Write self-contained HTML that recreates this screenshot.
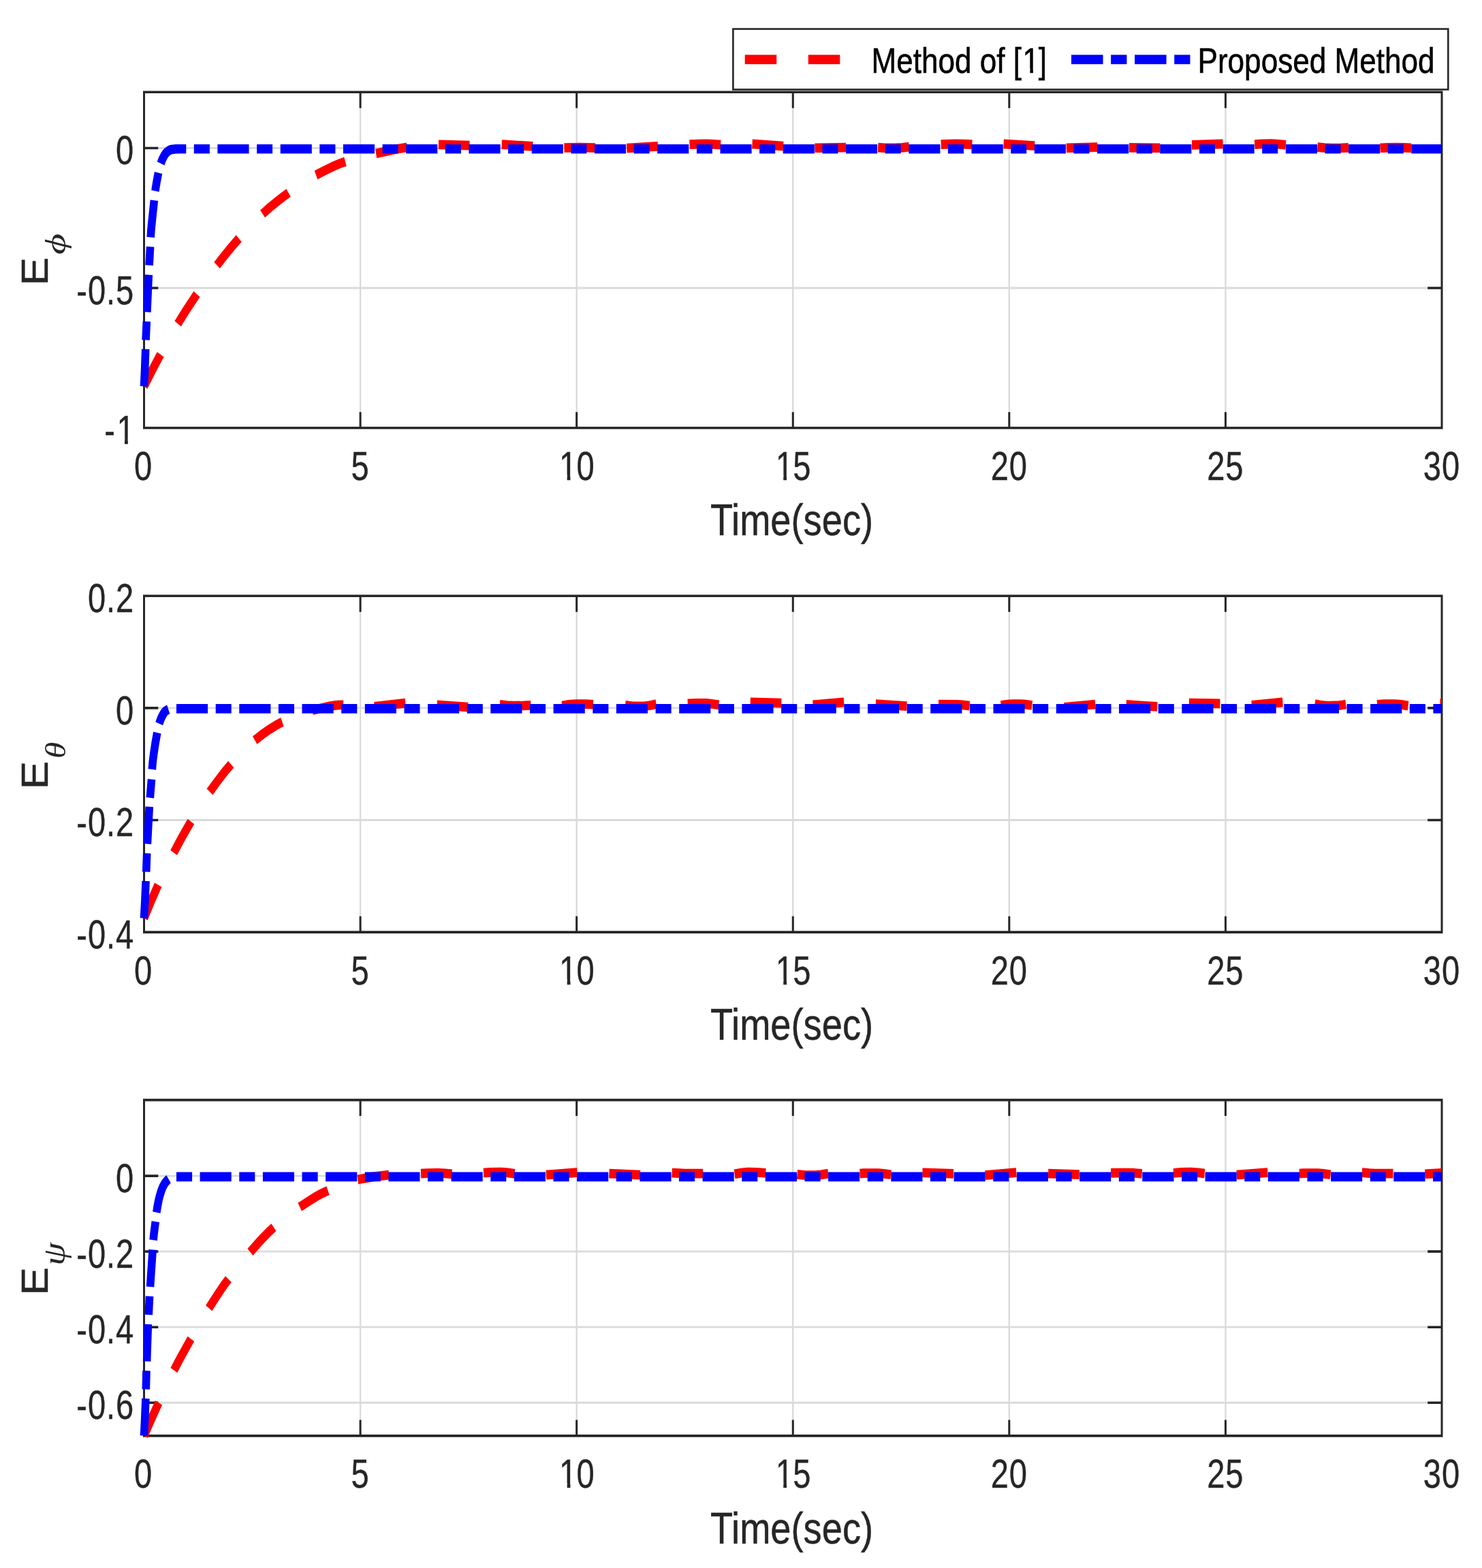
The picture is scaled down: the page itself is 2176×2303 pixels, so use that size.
<!DOCTYPE html>
<html lang="en"><head><meta charset="utf-8"><title>Tracking errors: Method of [1] vs Proposed Method</title>
<style>
html,body{margin:0;padding:0;background:#fff;}
body{width:2176px;height:2303px;overflow:hidden;}
svg{display:block;}
text{font-family:'Liberation Sans', sans-serif;fill:#262626;}
.tk{font-size:49.6px;stroke:#262626;stroke-width:0.3px;letter-spacing:0.9px;}
.lb{font-size:53.9px;stroke:#262626;stroke-width:0.4px;}
.le{font-size:54.6px;stroke:#262626;stroke-width:0.5px;}
.w{fill:#fff;}
.lg{font-size:44.1px;fill:#000;stroke:#000;stroke-width:0.5px;}
.sub{font-family:'Liberation Serif','DejaVu Serif',serif;font-style:italic;font-size:42px;}
.grid{fill:none;stroke:#000;stroke-opacity:0.145;stroke-width:2.4;}
.ax{fill:none;stroke:#262626;stroke-width:3;stroke-linecap:butt;stroke-linejoin:miter;}
.lgbox{fill:#fff;stroke:#262626;stroke-width:2.6;}
.red{fill:none;stroke:#f00;stroke-width:11.6;stroke-linejoin:round;}
.blue{fill:none;stroke:#00f;stroke-width:11.6;stroke-linejoin:round;}
</style></head><body>
<svg width="2176" height="2303" viewBox="0 0 2176 2303">
<rect width="2176" height="2303" fill="#fff"/>
<g transform="scale(1 1.185)">
<g id="axes1">
<path class="grid" d="M529.08 114.18V530.38M846.67 114.18V530.38M1164.25 114.18V530.38M1481.83 114.18V530.38M1799.42 114.18V530.38M211.5 183.54H2117M211.5 356.96H2117"/>
<path class="ax" d="M211.5 114.18H2117V530.38H211.5ZM529.08 530.38v-19.7M529.08 114.18v19.7M846.67 530.38v-19.7M846.67 114.18v19.7M1164.25 530.38v-19.7M1164.25 114.18v19.7M1481.83 530.38v-19.7M1481.83 114.18v19.7M1799.42 530.38v-19.7M1799.42 114.18v19.7M211.5 183.54h20.8M2117 183.54h-20.8M211.5 356.96h20.8M2117 356.96h-20.8"/>
<g transform="translate(197.1 594.94) scale(0.95 1)"><text class="tk">0</text></g>
<g transform="translate(515.48 594.94) scale(0.95 1)"><text class="tk">5</text></g>
<g transform="translate(819.53 594.94) scale(0.95 1)"><text class="tk"><tspan dx="1.6864">1</tspan><tspan dx="-1.6864">0</tspan></text><rect class="w" x="3.1744" y="-6.2" width="10.6392" height="9.176"/><rect class="w" x="18.8976" y="-6.2" width="10.0688" height="9.176"/></g>
<g transform="translate(1137.12 594.94) scale(0.95 1)"><text class="tk"><tspan dx="1.6864">1</tspan><tspan dx="-1.6864">5</tspan></text><rect class="w" x="3.1744" y="-6.2" width="10.6392" height="9.176"/><rect class="w" x="18.8976" y="-6.2" width="10.0688" height="9.176"/></g>
<g transform="translate(1454.7 594.94) scale(0.95 1)"><text class="tk">20</text></g>
<g transform="translate(1772.28 594.94) scale(0.95 1)"><text class="tk">25</text></g>
<g transform="translate(2089.87 594.94) scale(0.95 1)"><text class="tk">30</text></g>
<g transform="translate(169.89 203.71) scale(0.95 1)"><text class="tk">0</text></g>
<g transform="translate(112.34 377.13) scale(0.95 1)"><text class="tk">-0.5</text></g>
<g transform="translate(153.35 550.55) scale(0.95 1)"><text class="tk">-<tspan dx="1.6864">1</tspan></text><rect class="w" x="20.5916" y="-6.2" width="10.6392" height="9.176"/><rect class="w" x="36.3148" y="-6.2" width="10.0688" height="9.176"/></g>
<g transform="translate(1042.99 663.38) scale(1.007 1)"><text class="lb">Time(sec)</text></g>
<text class="le" transform="translate(69.9 353.76) rotate(-90) scale(0.957 1)">E</text>
<text class="sub" transform="translate(96 315.53) rotate(-90) scale(1.21 1)">ϕ</text>
<path class="red" d="M211.5 478.8L223.3 459.1L235.6 439.4M261.1 401.3L266.9 393.2L273.2 384.8L289 364.6M318.6 328.8L326.7 320L334.9 311.3L342.7 303.4L350.7 295.6M385.6 265.1L394.7 258.2L404.2 251.6L413.8 245.2L423.6 239M464 217L477.1 211.2L487.8 206.8L497.7 203.2L507 200.3M552.1 190.3L577.3 185.7L587.7 184L597.7 182.6M643.9 179.3L689.5 180.3M736.7 179.1L782.3 181.4M828.4 183.3L838.8 183L851.2 182.9L863.6 183L874 183.3M920.3 183.6L965.9 181.4M1012.5 179.1L1024.9 178.5L1037.4 178.4L1047.7 178.8L1058.1 179.5M1104.5 178.4L1150.1 181.1M1196.4 183.5L1242 182.9M1289.2 182.9L1299.6 183.4L1314.1 183.5L1324.5 183L1334.8 182M1381.7 179.1L1394.1 178.5L1404.5 178.4L1414.9 178.5L1427.3 179.1M1473.6 178.4L1519.2 180.7M1565.8 183.5L1611.4 182.4M1657.8 183L1703.4 183.5M1750 179.6L1795.6 178.4M1842.2 179.1L1848.4 178.6L1854.6 178.4L1867.1 178.2L1877.4 178.7L1887.8 179.6M1934.4 182.4L1944.8 183.2L1955.1 183.6L1969.6 183.5L1980 183.1M2026.5 183.5L2036.9 183L2049.3 182.9L2061.7 183L2072.1 183.5"/>
<path class="blue" d="M211.5 478.8L212.7 456.8L213.7 432.7M214.1 421.5L215.3 398.5M215.9 386.8L218.3 340.7M219.1 328.8L220.6 305.8M221.2 294.1L221.8 286L222.8 277.1L226.4 248.3M227.9 236.7L230 225.5L232.6 214.1M236.1 202.7L237.4 199.6L238.7 196.9L240.8 193.4L242.3 191.3L243.6 189.9L244.6 188.9L246.7 187.4L248.5 186.4L249.9 185.8L251.3 185.4L256.8 184.8L262.8 184.6L273.3 184.6M284.8 184.6L307.9 184.6M319.4 184.6L365.5 184.6M377.1 184.6L400.1 184.6M411.7 184.6L457.8 184.6M469.3 184.6L492.4 184.6M503.9 184.6L550 184.6M561.6 184.6L584.6 184.6M596.2 184.6L642.3 184.6M653.8 184.6L676.9 184.6M688.4 184.6L734.6 184.6M746.1 184.6L769.2 184.6M780.7 184.6L826.8 184.6M838.4 184.6L861.4 184.6M873 184.6L919.1 184.6M930.6 184.6L953.7 184.6M965.2 184.6L1011.3 184.6M1022.9 184.6L1045.9 184.6M1057.5 184.6L1103.6 184.6M1115.1 184.6L1138.2 184.6M1149.7 184.6L1195.9 184.6M1207.4 184.6L1230.5 184.6M1242 184.6L1288.1 184.6M1299.7 184.6L1322.7 184.6M1334.3 184.6L1380.4 184.6M1391.9 184.6L1415 184.6M1426.5 184.6L1472.7 184.6M1484.2 184.6L1507.2 184.6M1518.8 184.6L1564.9 184.6M1576.4 184.6L1599.5 184.6M1611 184.6L1657.2 184.6M1668.7 184.6L1691.8 184.6M1703.3 184.6L1749.4 184.6M1761 184.6L1784 184.6M1795.6 184.6L1841.7 184.6M1853.2 184.6L1876.3 184.6M1887.8 184.6L1934 184.6M1945.5 184.6L1968.5 184.6M1980.1 184.6L2026.2 184.6M2037.7 184.6L2060.8 184.6M2072.3 184.6L2117 184.6"/>
</g>
<g id="axes2">
<path class="grid" d="M529.08 738.65V1155.36M846.67 738.65V1155.36M1164.25 738.65V1155.36M1481.83 738.65V1155.36M1799.42 738.65V1155.36M211.5 877.55H2117M211.5 1016.46H2117"/>
<path class="ax" d="M211.5 738.65H2117V1155.36H211.5ZM529.08 1155.36v-19.7M529.08 738.65v19.7M846.67 1155.36v-19.7M846.67 738.65v19.7M1164.25 1155.36v-19.7M1164.25 738.65v19.7M1481.83 1155.36v-19.7M1481.83 738.65v19.7M1799.42 1155.36v-19.7M1799.42 738.65v19.7M211.5 877.55h20.8M2117 877.55h-20.8M211.5 1016.46h20.8M2117 1016.46h-20.8"/>
<g transform="translate(197.1 1219.92) scale(0.95 1)"><text class="tk">0</text></g>
<g transform="translate(515.48 1219.92) scale(0.95 1)"><text class="tk">5</text></g>
<g transform="translate(819.53 1219.92) scale(0.95 1)"><text class="tk"><tspan dx="1.6864">1</tspan><tspan dx="-1.6864">0</tspan></text><rect class="w" x="3.1744" y="-6.2" width="10.6392" height="9.176"/><rect class="w" x="18.8976" y="-6.2" width="10.0688" height="9.176"/></g>
<g transform="translate(1137.12 1219.92) scale(0.95 1)"><text class="tk"><tspan dx="1.6864">1</tspan><tspan dx="-1.6864">5</tspan></text><rect class="w" x="3.1744" y="-6.2" width="10.6392" height="9.176"/><rect class="w" x="18.8976" y="-6.2" width="10.0688" height="9.176"/></g>
<g transform="translate(1454.7 1219.92) scale(0.95 1)"><text class="tk">20</text></g>
<g transform="translate(1772.28 1219.92) scale(0.95 1)"><text class="tk">25</text></g>
<g transform="translate(2089.87 1219.92) scale(0.95 1)"><text class="tk">30</text></g>
<g transform="translate(128.89 758.82) scale(0.95 1)"><text class="tk">0.2</text></g>
<g transform="translate(169.89 897.72) scale(0.95 1)"><text class="tk">0</text></g>
<g transform="translate(112.34 1036.62) scale(0.95 1)"><text class="tk">-0.2</text></g>
<g transform="translate(112.34 1175.53) scale(0.95 1)"><text class="tk">-0.4</text></g>
<g transform="translate(1042.99 1288.35) scale(1.007 1)"><text class="lb">Time(sec)</text></g>
<text class="le" transform="translate(69.9 978.23) rotate(-90) scale(0.957 1)">E</text>
<text class="sub" transform="translate(96 940.25) rotate(-90) scale(1 1)">θ</text>
<path class="red" d="M211.5 1138.1L221.6 1117.3L232.2 1096.8M255.1 1056.8L261.4 1046.8L267.6 1037.1L274 1027.5L280.4 1018.2M308 981.4L316.3 971.7L324 963.1L331.5 955L339.2 947.4M374.2 917.5L384.7 910.5L395.1 904.3L404.9 899.2L409.9 896.8L414.4 894.9M458.7 880.4L476.4 876.8L486.3 875L491.3 874.4L495.7 874L500.2 873.7L504.2 873.7M549.7 875.9L595.3 871.4M641.6 873.7L687.2 876.4M733.8 873.2L744.1 874.3L754.5 874.8L769 874.6L779.4 874.1M825.3 874.8L835.6 873.3L841.8 872.8L846 872.6L860.5 872.7L870.9 873.2M918 874.1L922.2 874.6L928.4 875.1L934.6 875.4L942.9 875.4L947.1 875.2L953.3 874.5L957.4 873.8L963.6 872.6M1009.7 872.1L1022.2 871.7L1036.7 871.7L1045 872.4L1055.3 873.7M1101.7 870.3L1147.3 871.4M1193.6 873.7L1239.2 870.3M1285.8 872.6L1331.4 875.3M1378 873.2L1405 873.3L1413.3 873.8L1423.6 874.8M1469.7 874.3L1475.9 873.5L1482.1 872.9L1488.4 872.6L1492.5 872.6L1496.6 872.6L1502.9 872.9L1509.1 873.5L1515.3 874.3M1562.5 876.6L1608.1 873M1653.6 873.2L1674.3 874.6L1699.2 875.9M1745.8 871.4L1791.4 872.1M1837.8 874.1L1883.4 870.3M1930.5 872.6L1936.7 873.6L1942.9 874.3L1949.1 874.7L1953.3 874.8L1959.5 874.6L1965.7 874.3L1971.9 873.6L1976.1 873M2022 873.2L2032.4 872.7L2046.9 872.6L2051.1 872.8L2057.3 873.3L2067.6 874.8M2114.4 871.7L2117 871.7"/>
<path class="blue" d="M211.5 1138.1L212.9 1116.1L214.1 1092M214.7 1080.6L215.7 1057.6M216.4 1046L218 1019.6L219.3 999.9M220.3 988.8L222.5 965.9M223.3 953.6L224.3 943.8L225.9 933.4L228 921.5L230.8 908.1M233.8 896.9L235.1 893.4L236.6 890.2L238.3 887.2L240.3 884.2L241.6 882.6L243 881.4L245.2 880.1L247.3 879.3M259 878.3L305.1 878.3M316.7 878.3L339.7 878.3M351.3 878.3L397.4 878.3M408.9 878.3L432 878.3M443.5 878.3L489.7 878.3M501.2 878.3L524.3 878.3M535.8 878.3L581.9 878.3M593.5 878.3L616.5 878.3M628.1 878.3L674.2 878.3M685.7 878.3L708.8 878.3M720.3 878.3L766.5 878.3M778 878.3L801.1 878.3M812.6 878.3L858.8 878.3M870.3 878.3L893.4 878.3M904.9 878.3L951 878.3M962.6 878.3L985.6 878.3M997.2 878.3L1043.3 878.3M1054.8 878.3L1077.9 878.3M1089.4 878.3L1135.6 878.3M1147.1 878.3L1170.2 878.3M1181.7 878.3L1227.8 878.3M1239.4 878.3L1262.4 878.3M1274 878.3L1320.1 878.3M1331.6 878.3L1354.7 878.3M1366.2 878.3L1412.4 878.3M1423.9 878.3L1447 878.3M1458.5 878.3L1504.6 878.3M1516.2 878.3L1539.2 878.3M1550.8 878.3L1596.9 878.3M1608.4 878.3L1631.5 878.3M1643 878.3L1689.2 878.3M1700.7 878.3L1723.8 878.3M1735.3 878.3L1781.5 878.3M1793 878.3L1816.1 878.3M1827.6 878.3L1873.7 878.3M1885.3 878.3L1908.3 878.3M1919.9 878.3L1966 878.3M1977.5 878.3L2000.6 878.3M2012.1 878.3L2058.3 878.3M2069.8 878.3L2092.9 878.3M2104.4 878.3L2117 878.3"/>
</g>
<g id="axes3">
<path class="grid" d="M529.08 1363.38V1779.66M846.67 1363.38V1779.66M1164.25 1363.38V1779.66M1481.83 1363.38V1779.66M1799.42 1363.38V1779.66M211.5 1457.47H2117M211.5 1551.17H2117M211.5 1644.88H2117M211.5 1738.58H2117"/>
<path class="ax" d="M211.5 1363.38H2117V1779.66H211.5ZM529.08 1779.66v-19.7M529.08 1363.38v19.7M846.67 1779.66v-19.7M846.67 1363.38v19.7M1164.25 1779.66v-19.7M1164.25 1363.38v19.7M1481.83 1779.66v-19.7M1481.83 1363.38v19.7M1799.42 1779.66v-19.7M1799.42 1363.38v19.7M211.5 1457.47h20.8M2117 1457.47h-20.8M211.5 1551.17h20.8M2117 1551.17h-20.8M211.5 1644.88h20.8M2117 1644.88h-20.8M211.5 1738.58h20.8M2117 1738.58h-20.8"/>
<g transform="translate(197.1 1844.22) scale(0.95 1)"><text class="tk">0</text></g>
<g transform="translate(515.48 1844.22) scale(0.95 1)"><text class="tk">5</text></g>
<g transform="translate(819.53 1844.22) scale(0.95 1)"><text class="tk"><tspan dx="1.6864">1</tspan><tspan dx="-1.6864">0</tspan></text><rect class="w" x="3.1744" y="-6.2" width="10.6392" height="9.176"/><rect class="w" x="18.8976" y="-6.2" width="10.0688" height="9.176"/></g>
<g transform="translate(1137.12 1844.22) scale(0.95 1)"><text class="tk"><tspan dx="1.6864">1</tspan><tspan dx="-1.6864">5</tspan></text><rect class="w" x="3.1744" y="-6.2" width="10.6392" height="9.176"/><rect class="w" x="18.8976" y="-6.2" width="10.0688" height="9.176"/></g>
<g transform="translate(1454.7 1844.22) scale(0.95 1)"><text class="tk">20</text></g>
<g transform="translate(1772.28 1844.22) scale(0.95 1)"><text class="tk">25</text></g>
<g transform="translate(2089.87 1844.22) scale(0.95 1)"><text class="tk">30</text></g>
<g transform="translate(169.89 1477.64) scale(0.95 1)"><text class="tk">0</text></g>
<g transform="translate(112.34 1571.34) scale(0.95 1)"><text class="tk">-0.2</text></g>
<g transform="translate(112.34 1665.05) scale(0.95 1)"><text class="tk">-0.4</text></g>
<g transform="translate(112.34 1758.75) scale(0.95 1)"><text class="tk">-0.6</text></g>
<g transform="translate(1042.99 1912.66) scale(1.007 1)"><text class="lb">Time(sec)</text></g>
<text class="le" transform="translate(69.9 1605.53) rotate(-90) scale(0.957 1)">E</text>
<text class="sub" transform="translate(94.9 1568.48) rotate(-90) scale(1.087 1.126)">ψ</text>
<path class="red" d="M211.5 1779.5L222.1 1759.1L233 1738.7M255.4 1698.4L260.5 1690L266.1 1681.1L280.3 1659.5M306.7 1621.5L314.7 1610.8L321.8 1601.7L328.7 1593.1L335.4 1585.4M367.4 1551.9L378.2 1541.5L386.7 1533.7L394.3 1527.2L401.9 1521.2M440.2 1496L452.9 1489L463.1 1483.6L472.6 1479.2L481.5 1475.6M525.3 1462.1L535.7 1460.4L547.1 1458.8L558.6 1457.5L571.1 1456.3M618 1454.5L628.4 1454.1L642.9 1454L653.2 1454.4L663.6 1455.2M710 1453.6L720.4 1453L734.9 1452.9L739 1453.1L745.3 1453.5L755.6 1454.7M801.9 1456.3L847.5 1453.3M894.4 1454.5L940 1456.3M986.6 1453.6L997 1454.2L1005.2 1454.5L1032.2 1454.5M1078.6 1455.2L1088.9 1453.7L1095.1 1453.1L1099.3 1452.9L1107.6 1453L1113.8 1453.2L1120 1453.6L1124.2 1454M1170.5 1455.6L1174.7 1456L1180.9 1456.5L1187.1 1456.7L1195.4 1456.7L1199.6 1456.5L1205.8 1456L1216.1 1454.5M1262.5 1454.5L1268.7 1454.2L1275 1454.1L1289.5 1454.1L1297.8 1454.7L1308.1 1455.9M1354.4 1453.5L1400 1454.7M1446.6 1456.7L1492.2 1453.3M1539.1 1454.5L1584.7 1455.9M1631.1 1454L1641.5 1453.7L1656 1453.6L1666.3 1454L1676.7 1454.7M1723.1 1454L1729.3 1453.5L1735.5 1453.1L1748 1452.9L1752.1 1453L1758.3 1453.4L1768.7 1454.5M1815.8 1456.3L1861.4 1453.3M1907.9 1454.5L1914.1 1454.2L1920.4 1454.1L1934.9 1454.1L1943.2 1454.7L1953.5 1455.9M1999.8 1453.3L2010.2 1454.1L2018.4 1454.5L2045.4 1454.5M2092.3 1455.2L2104.7 1454.5L2117 1453.9"/>
<path class="blue" d="M211.5 1779.5L212.8 1757L213.9 1733.4M214.3 1722L215 1698.9M215.6 1687.4L217.4 1641.3M218.2 1629.7L219.6 1606.6M220.5 1594.9L224.2 1548.9M225.1 1537L226 1529.5L228.3 1514.1M229.8 1502.8L231.3 1494.8L233.1 1487L235 1480.8L237.1 1475.2L239.3 1470.7L241.8 1466.9L243.4 1465.1L244.9 1463.6L246.4 1462.3L247.6 1461.5M259 1458.6L282.1 1458.6M293.6 1458.6L339.7 1458.6M351.3 1458.6L374.3 1458.6M385.9 1458.6L432 1458.6M443.5 1458.6L466.6 1458.6M478.1 1458.6L524.2 1458.6M535.8 1458.6L558.8 1458.6M570.4 1458.6L616.5 1458.6M628 1458.6L651.1 1458.6M662.6 1458.6L708.7 1458.6M720.3 1458.6L743.3 1458.6M754.9 1458.6L801 1458.6M812.5 1458.6L835.6 1458.6M847.1 1458.6L893.2 1458.6M904.8 1458.6L927.8 1458.6M939.4 1458.6L985.5 1458.6M997 1458.6L1020.1 1458.6M1031.6 1458.6L1077.7 1458.6M1089.3 1458.6L1112.3 1458.6M1123.8 1458.6L1170 1458.6M1181.5 1458.6L1204.6 1458.6M1216.1 1458.6L1262.2 1458.6M1273.8 1458.6L1296.8 1458.6M1308.3 1458.6L1354.5 1458.6M1366 1458.6L1389.1 1458.6M1400.6 1458.6L1446.7 1458.6M1458.3 1458.6L1481.3 1458.6M1492.8 1458.6L1539 1458.6M1550.5 1458.6L1573.6 1458.6M1585.1 1458.6L1631.2 1458.6M1642.8 1458.6L1665.8 1458.6M1677.3 1458.6L1723.5 1458.6M1735 1458.6L1758.1 1458.6M1769.6 1458.6L1815.7 1458.6M1827.3 1458.6L1850.3 1458.6M1861.8 1458.6L1908 1458.6M1919.5 1458.6L1942.6 1458.6M1954.1 1458.6L2000.2 1458.6M2011.8 1458.6L2034.8 1458.6M2046.3 1458.6L2092.5 1458.6M2104 1458.6L2117 1458.6"/>
</g>
<g id="legend">
<rect class="lgbox" transform="scale(1 0.8439)" x="1076.4" y="42.55" width="1049.9" height="88.95"/>
<path class="red" stroke-dasharray="46.53 46.53" d="M1093.7 73.67H1268.2"/>
<path class="blue" stroke-dasharray="46.53 11.63 23.26 11.63" d="M1573 73.67H1747.5"/>
<g transform="translate(1279.5 90.46) scale(1 1)"><text class="lg">Method of [<tspan dx="1.4994">1</tspan><tspan dx="-1.4994">]</tspan></text><rect class="w" x="223.4516" y="-5.5125" width="9.4595" height="8.1585"/><rect class="w" x="237.4313" y="-5.5125" width="8.9523" height="8.1585"/></g>
<g transform="translate(1758.5 90.46) scale(1 1)"><text class="lg">Proposed Method</text></g>
</g>
</g></svg></body></html>
